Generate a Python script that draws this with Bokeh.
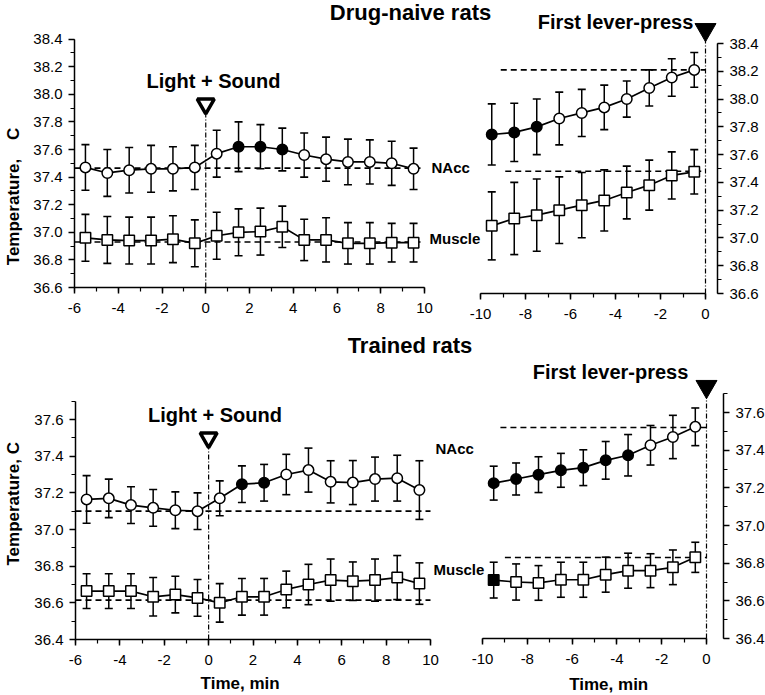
import numpy as np
from bokeh.plotting import figure
from bokeh.models import (Range1d, LinearAxis, FixedTicker, PrintfTickFormatter,
                          Label, ColumnDataSource)
from bokeh.embed import file_html
from bokeh.resources import INLINE

# ---------------- data ----------------
cue_time = [-5.5, -4.5, -3.5, -2.5, -1.5, -0.5, 0.5, 1.5, 2.5, 3.5, 4.5, 5.5, 6.5, 7.5, 8.5, 9.5]
press_time = [-9.5, -8.5, -7.5, -6.5, -5.5, -4.5, -3.5, -2.5, -1.5, -0.5]

# Drug-naive rats, Light + Sound
naive_cue_nacc = [37.47, 37.43, 37.45, 37.46, 37.46, 37.47, 37.57, 37.62, 37.62, 37.60,
                  37.56, 37.53, 37.51, 37.51, 37.50, 37.46]
naive_cue_nacc_err = [0.165, 0.17, 0.165, 0.17, 0.16, 0.16, 0.17, 0.18, 0.16, 0.155,
                      0.16, 0.16, 0.165, 0.16, 0.16, 0.15]
naive_cue_nacc_sig = [0, 0, 0, 0, 0, 0, 0, 1, 1, 1, 0, 0, 0, 0, 0, 0]
naive_cue_muscle = [36.96, 36.945, 36.94, 36.94, 36.95, 36.92, 36.975, 37.00, 37.005, 37.04,
                    36.945, 36.945, 36.92, 36.92, 36.925, 36.925]
naive_cue_muscle_err = [0.17, 0.17, 0.17, 0.17, 0.17, 0.17, 0.17, 0.17, 0.17, 0.15,
                        0.15, 0.16, 0.15, 0.15, 0.14, 0.14]
naive_cue_muscle_sig = [0] * 16
naive_cue_baseline = [37.465, 36.93]          # NAcc, Muscle

# Drug-naive rats, before first lever-press
naive_press_nacc = [37.745, 37.76, 37.80, 37.86, 37.90, 37.94, 38.00, 38.08, 38.155, 38.21]
naive_press_nacc_err = [0.22, 0.21, 0.20, 0.19, 0.17, 0.16, 0.13, 0.13, 0.135, 0.125]
naive_press_nacc_sig = [1, 1, 1, 0, 0, 0, 0, 0, 0, 0]
naive_press_muscle = [37.087, 37.14, 37.164, 37.20, 37.236, 37.27, 37.327, 37.38, 37.45, 37.476]
naive_press_muscle_err = [0.245, 0.26, 0.26, 0.24, 0.235, 0.22, 0.19, 0.18, 0.17, 0.16]
naive_press_muscle_sig = [0] * 10
naive_press_baseline = [38.21, 37.48]
naive_press_baseline_from = [-9.1, -8.9]

# Trained rats, Light + Sound
trained_cue_nacc = [37.164, 37.17, 37.133, 37.118, 37.105, 37.10, 37.17, 37.247, 37.255, 37.30,
                    37.324, 37.26, 37.256, 37.275, 37.28, 37.215]
trained_cue_nacc_err = [0.13, 0.105, 0.10, 0.10, 0.10, 0.10, 0.095, 0.10, 0.10, 0.11,
                        0.12, 0.115, 0.12, 0.12, 0.125, 0.16]
trained_cue_nacc_sig = [0, 0, 0, 0, 0, 0, 0, 1, 1, 0, 0, 0, 0, 0, 0, 0]
trained_cue_muscle = [36.664, 36.664, 36.664, 36.633, 36.645, 36.627, 36.60, 36.633, 36.633, 36.673,
                      36.70, 36.724, 36.718, 36.724, 36.738, 36.705]
trained_cue_muscle_err = [0.095, 0.095, 0.095, 0.105, 0.10, 0.10, 0.105, 0.10, 0.10, 0.10,
                          0.11, 0.115, 0.105, 0.115, 0.12, 0.113]
trained_cue_muscle_sig = [0] * 16
trained_cue_baseline = [37.10, 36.615]

# Trained rats, before first lever-press
trained_press_nacc = [37.225, 37.247, 37.27, 37.293, 37.307, 37.346, 37.373, 37.426, 37.47, 37.524]
trained_press_nacc_err = [0.09, 0.085, 0.095, 0.09, 0.095, 0.10, 0.11, 0.105, 0.115, 0.10]
trained_press_nacc_sig = [1, 1, 1, 1, 1, 1, 1, 0, 0, 0]
trained_press_muscle = [36.71, 36.70, 36.695, 36.712, 36.712, 36.739, 36.76, 36.76, 36.778, 36.831]
trained_press_muscle_err = [0.095, 0.096, 0.092, 0.093, 0.093, 0.093, 0.093, 0.09, 0.092, 0.08]
trained_press_muscle_sig = [1, 0, 0, 0, 0, 0, 0, 0, 0, 0]
trained_press_baseline = [37.52, 36.83]
trained_press_baseline_from = [-9.2, -9.0]

event_time = 0

# tick labels
cue_time_ticks = [-6, -4, -2, 0, 2, 4, 6, 8, 10]
press_time_ticks = [-10, -8, -6, -4, -2, 0]
naive_temp_ticks = [36.6, 36.8, 37.0, 37.2, 37.4, 37.6, 37.8, 38.0, 38.2, 38.4]
trained_temp_ticks = [36.4, 36.6, 36.8, 37.0, 37.2, 37.4, 37.6]

# ---------------- layout ----------------
W, H = 765, 695
FONT = "Liberation Sans"


def rng(v0, p0, v1, p1, total):
    k = (v1 - v0) / (p1 - p0)
    start = v0 - p0 * k
    return Range1d(start=start, end=start + total * k)


# anchors: (value, pixel) ; x measured from left, y measured from bottom
xr = {
    "tl": rng(-6, 74, 10, 424, W),
    "tr": rng(-10, 480, 0, 705, W),
    "bl": rng(-6, 75, 10, 430, W),
    "br": rng(-10, 482, 0, 706, W),
}
yr = {
    "tl": rng(36.6, H - 287, 38.4, H - 38.6, H),
    "tr": rng(36.6, H - 293, 38.4, H - 43, H),
    "bl": rng(36.4, H - 639, 37.6, H - 419, H),
    "br": rng(36.4, H - 638, 37.6, H - 412, H),
}

p = figure(width=W, height=H, x_range=Range1d(0, W), y_range=Range1d(0, H),
           x_axis_type=None, y_axis_type=None, toolbar_location=None,
           output_backend="svg", min_border=0, outline_line_color=None,
           background_fill_color="white", border_fill_color="white")
p.extra_x_ranges = xr
p.extra_y_ranges = yr


def style_axis(ax, standoff):
    ax.axis_line_width = 1.5
    ax.axis_line_color = "black"
    ax.major_tick_line_width = 1.5
    ax.minor_tick_line_width = 1.2
    ax.major_tick_line_color = "black"
    ax.minor_tick_line_color = "black"
    ax.major_tick_out = 6
    ax.major_tick_in = 0
    ax.minor_tick_out = 4
    ax.minor_tick_in = 0
    ax.major_label_text_font = FONT
    ax.major_label_text_font_size = "15px"
    ax.major_label_text_color = "black"
    ax.major_label_standoff = standoff


def add_axes(name, xticks, yticks, ybounds, y_side, y_loc, x_loc):
    xb = (xticks[0], xticks[-1])
    xminor = list(np.arange(xb[0], xb[1] + 0.5, 1.0))
    xa = LinearAxis(x_range_name=name, y_range_name=name, fixed_location=x_loc,
                    bounds=xb, ticker=FixedTicker(ticks=xticks, minor_ticks=xminor),
                    formatter=PrintfTickFormatter(format="%d"))
    style_axis(xa, 9)
    p.add_layout(xa, "below")
    yminor = [round(v, 2) for v in np.arange(ybounds[0], ybounds[1] + 0.05, 0.1)]
    ya = LinearAxis(x_range_name=name, y_range_name=name, fixed_location=y_loc,
                    bounds=ybounds, ticker=FixedTicker(ticks=yticks, minor_ticks=yminor),
                    formatter=PrintfTickFormatter(format="%.1f"))
    style_axis(ya, 6)
    p.add_layout(ya, y_side)


add_axes("tl", cue_time_ticks, naive_temp_ticks, (36.6, 38.4), "left", -6, 36.6)
add_axes("tr", press_time_ticks, naive_temp_ticks, (36.6, 38.4), "right", 0.533, 36.6)
add_axes("bl", cue_time_ticks, trained_temp_ticks, (36.4, 37.7), "left", -6, 36.4)
add_axes("br", press_time_ticks, trained_temp_ticks, (36.4, 37.7), "right", 0.759, 36.4)


def draw_series(name, x, y, err, sig, marker):
    kw = dict(x_range_name=name, y_range_name=name)
    lo = [v - e for v, e in zip(y, err)]
    hi = [v + e for v, e in zip(y, err)]
    p.segment(x0=x, y0=lo, x1=x, y1=hi, line_color="black", line_width=1.5, **kw)
    p.scatter(x=list(x) + list(x), y=lo + hi, marker="dash", size=8,
              line_color="black", line_width=1.6, **kw)
    p.line(x, y, line_color="black", line_width=1.7, **kw)
    src = ColumnDataSource(dict(x=x, y=y,
                                fill=["black" if s else "white" for s in sig]))
    p.scatter("x", "y", source=src, marker=marker, size=10.5, fill_color="fill",
              line_color="black", line_width=1.5, **kw)


def baseline(name, level, x0, x1):
    p.line([x0, x1], [level, level], line_color="black", line_width=1.6,
           line_dash="6 4", x_range_name=name, y_range_name=name)


def event(name, y0, ytri, filled):
    kw = dict(x_range_name=name, y_range_name=name)
    p.line([event_time, event_time], [y0, ytri], line_color="black", line_width=1.2,
           line_dash="5 2 1 2", **kw)
    if filled:
        p.scatter([event_time], [ytri], marker="inverted_triangle", size=21,
                  fill_color="black", line_color="black", line_width=1, **kw)
    else:
        p.scatter([event_time], [ytri], marker="inverted_triangle", size=17,
                  fill_color="white", line_color="black", line_width=3.5, **kw)


def label(name, x, y, text, size, bold=True, align="center", angle=0):
    p.add_layout(Label(x=x, y=y, x_range_name=name, y_range_name=name, text=text,
                       text_font=FONT, text_font_size=size,
                       text_font_style="bold" if bold else "normal",
                       text_align=align, text_baseline="middle", angle=angle,
                       text_color="black"))


# --- top-left: drug-naive, Light + Sound
for lvl in naive_cue_baseline:
    baseline("tl", lvl, -6, 10)
event("tl", 36.6, 37.93, False)
draw_series("tl", cue_time, naive_cue_muscle, naive_cue_muscle_err, naive_cue_muscle_sig, "square")
draw_series("tl", cue_time, naive_cue_nacc, naive_cue_nacc_err, naive_cue_nacc_sig, "circle")

# --- top-right: drug-naive, first lever-press
for lvl, x0 in zip(naive_press_baseline, naive_press_baseline_from):
    baseline("tr", lvl, x0, 0)
event("tr", 36.6, 38.50, True)
draw_series("tr", press_time, naive_press_muscle, naive_press_muscle_err, naive_press_muscle_sig, "square")
draw_series("tr", press_time, naive_press_nacc, naive_press_nacc_err, naive_press_nacc_sig, "circle")

# --- bottom-left: trained, Light + Sound
for lvl in trained_cue_baseline:
    baseline("bl", lvl, -6, 10)
event("bl", 36.4, 37.50, False)
draw_series("bl", cue_time, trained_cue_muscle, trained_cue_muscle_err, trained_cue_muscle_sig, "square")
draw_series("bl", cue_time, trained_cue_nacc, trained_cue_nacc_err, trained_cue_nacc_sig, "circle")

# --- bottom-right: trained, first lever-press
for lvl, x0 in zip(trained_press_baseline, trained_press_baseline_from):
    baseline("br", lvl, x0, 0)
event("br", 36.4, 37.738, True)
draw_series("br", press_time, trained_press_muscle, trained_press_muscle_err, trained_press_muscle_sig, "square")
draw_series("br", press_time, trained_press_nacc, trained_press_nacc_err, trained_press_nacc_sig, "circle")

# --- texts
label("tl", 9.36, 38.593, "Drug-naive rats", "22px")
label("tl", 0.354, 38.10, "Light + Sound", "20px")
label("tr", -4.0, 38.558, "First lever-press", "20px")
label("tl", 10.32, 37.47, "NAcc", "15px", align="left")
label("tl", 10.23, 36.955, "Muscle", "15px", align="left")
label("tl", -8.81, 37.26, "Temperature,\u00a0\u00a0\u00a0\u00a0C", "17px", angle=np.pi / 2)

label("bl", 9.076, 38.004, "Trained rats", "22px")
label("bl", 0.287, 37.622, "Light + Sound", "20px")
label("br", -4.286, 37.815, "First lever-press", "20px")
label("bl", 10.225, 37.442, "NAcc", "15px", align="left")
label("bl", 10.135, 36.782, "Muscle", "15px", align="left")
label("bl", -8.79, 37.153, "Temperature,  C", "17px", angle=np.pi / 2)
label("bl", 1.527, 36.158, "Time,  min", "17px")
label("br", -4.26, 36.158, "Time,  min", "17px")

open("out.html", "w").write(file_html(p, INLINE))
